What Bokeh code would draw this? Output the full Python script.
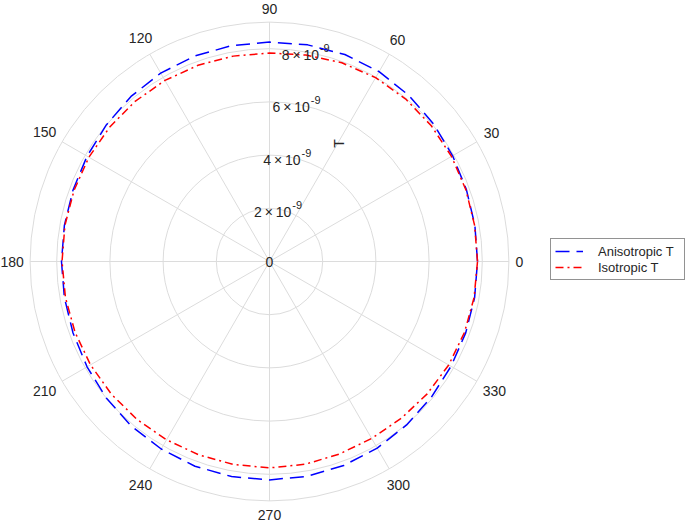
import numpy as np
from bokeh.plotting import figure
from bokeh.models import Range1d, Legend, LegendItem, Grid
from bokeh.core.properties import value
from bokeh.embed import file_html
from bokeh.resources import INLINE

# ---------------- data ----------------
theta_deg = [0, 10, 20, 30, 40, 50, 60, 70, 80, 90, 100, 110, 120, 130, 140, 150, 160, 170,
             180, 190, 200, 210, 220, 230, 240, 250, 260, 270, 280, 290, 300, 310, 320, 330, 340, 350]
aniso_T = [7.82e-9, 7.84e-9, 7.88e-9, 7.95e-9, 8.05e-9, 8.15e-9, 8.24e-9, 8.28e-9, 8.27e-9, 8.25e-9,
           8.24e-9, 8.22e-9, 8.18e-9, 8.10e-9, 8.00e-9, 7.92e-9, 7.86e-9, 7.83e-9,
           7.82e-9, 7.83e-9, 7.86e-9, 7.92e-9, 8.00e-9, 8.08e-9, 8.14e-9, 8.19e-9, 8.21e-9, 8.21e-9,
           8.20e-9, 8.16e-9, 8.10e-9, 8.02e-9, 7.94e-9, 7.88e-9, 7.85e-9, 7.83e-9]
iso_T = [7.82e-9, 7.83e-9, 7.86e-9, 7.90e-9, 7.94e-9, 7.97e-9, 7.98e-9, 7.95e-9, 7.88e-9, 7.84e-9,
         7.84e-9, 7.85e-9, 7.86e-9, 7.86e-9, 7.85e-9, 7.84e-9, 7.82e-9, 7.81e-9,
         7.80e-9, 7.79e-9, 7.78e-9, 7.77e-9, 7.76e-9, 7.75e-9, 7.74e-9, 7.74e-9, 7.75e-9, 7.76e-9,
         7.74e-9, 7.70e-9, 7.68e-9, 7.70e-9, 7.74e-9, 7.78e-9, 7.80e-9, 7.81e-9]
series_names = ["Anisotropic T", "Isotropic T"]

r_ticks = [2e-9, 4e-9, 6e-9, 8e-9]
r_tick_mantissa = ["2", "4", "6", "8"]
r_tick_exponent = "-9"
r_max = 9e-9
r_axis_label = "T"
r_label_angle_deg = 80

theta_ticks = [0, 30, 60, 90, 120, 150, 180, 210, 240, 270, 300, 330]
theta_tick_labels = ["0", "30", "60", "90", "120", "150", "180", "210", "240", "270", "300", "330"]

# ---------------- layout / style ----------------
W, H = 685, 523
CX, CY = 269.0, 261.0      # polar centre in figure pixels (from left, from top)
S = 26.6                   # pixels per 1e-9
UNIT = 1e-9
FONT = "Liberation Sans"
TXT = "#262626"
GRID = "#dcdcdc"


def px_to_data(x_px, y_px_top):
    return (x_px - CX) / S, (CY - y_px_top) / S


p = figure(width=W, height=H, output_backend="svg", toolbar_location=None,
           x_range=Range1d(-CX / S, (W - CX) / S), y_range=Range1d((CY - H) / S, CY / S),
           min_border=0, x_axis_location=None, y_axis_location=None,
           outline_line_color=None, background_fill_color="white", border_fill_color="white")
for g in p.select(type=Grid):
    g.visible = False

# rings
ring_r = [t / UNIT for t in r_ticks] + [r_max / UNIT]
p.circle(x=[0] * len(ring_r), y=[0] * len(ring_r), radius=ring_r,
         fill_color=None, line_color=GRID, line_width=1)

# spokes
ang = np.deg2rad(np.array(theta_ticks, dtype=float))
R = r_max / UNIT
p.segment(x0=np.zeros(len(ang)), y0=np.zeros(len(ang)), x1=R * np.cos(ang), y1=R * np.sin(ang),
          line_color=GRID, line_width=1)

# curves
th = np.deg2rad(np.array(theta_deg + [360], dtype=float))
ra = np.array(aniso_T + [aniso_T[0]]) / UNIT
ri = np.array(iso_T + [iso_T[0]]) / UNIT
r1 = p.line(ra * np.cos(th), ra * np.sin(th), line_color="#0000ff", line_width=1.5,
            line_dash="14 7")
r2 = p.line(ri * np.cos(th), ri * np.sin(th), line_color="#ff0000", line_width=1.5,
            line_dash="8 4 2 4")

# theta tick labels
tx, ty = [], []
for t, lab in zip(theta_ticks, theta_tick_labels):
    a = np.deg2rad(t)
    hw = 3.9 * len(lab)
    hh = 5.0
    rp = 246 + hw * abs(np.cos(a)) + 7 * abs(np.sin(a))
    x_px = CX + rp * np.cos(a)
    y_px = CY - rp * np.sin(a)
    x_px = min(max(x_px, hw), W - hw - 1)
    y_px = min(max(y_px, hh + 2), H - hh - 2)
    dx, dy = px_to_data(x_px, y_px)
    tx.append(dx)
    ty.append(dy)
p.text(x=tx, y=ty, text=theta_tick_labels, text_align="center", text_baseline="middle",
       text_font=value(FONT), text_font_size="14px", text_color=TXT)

# radial tick labels along 80 degrees
ra_ang = np.deg2rad(r_label_angle_deg)
bx, by, ex, ey, base_txt, exp_txt = [], [], [], [], [], []
for r, m in zip(r_ticks, r_tick_mantissa):
    rr = r / UNIT
    ax, ay = rr * np.cos(ra_ang), rr * np.sin(ra_ang)
    bx.append(ax + 12.5 / S)
    by.append(ay - 3.0 / S)
    ex.append(ax + 13.5 / S)
    ey.append(ay + 4.0 / S)
    base_txt.append(m + "\u2009\u00d7\u200910")
    exp_txt.append(r_tick_exponent)
p.text(x=bx, y=by, text=base_txt, text_align="right", text_baseline="middle",
       text_font=value(FONT), text_font_size="14px", text_color=TXT)
p.text(x=ex, y=ey, text=exp_txt, text_align="left", text_baseline="middle",
       text_font=value(FONT), text_font_size="11px", text_color=TXT)
p.text(x=[0], y=[0], text=["0"], text_align="center", text_baseline="middle",
       text_font=value(FONT), text_font_size="14px", text_color=TXT)

# radial axis label
lx, ly = px_to_data(338, 143)
p.text(x=[lx], y=[ly], text=[r_axis_label], angle=np.pi / 2, text_align="center",
       text_baseline="middle", text_font=value(FONT), text_font_size="14px", text_color=TXT)

# legend
legend = Legend(items=[LegendItem(label=series_names[0], renderers=[r1]),
                       LegendItem(label=series_names[1], renderers=[r2])],
                location=(550, 243), orientation="vertical",
                label_text_font=FONT, label_text_font_size="13px", label_text_color=TXT,
                glyph_width=28, glyph_height=16, label_height=16, label_width=82,
                label_standoff=15, padding=4, spacing=0, margin=0,
                border_line_color="#262626", border_line_width=1,
                background_fill_color="white", background_fill_alpha=1.0)
p.add_layout(legend)

open("out.html", "w").write(file_html(p, INLINE))
